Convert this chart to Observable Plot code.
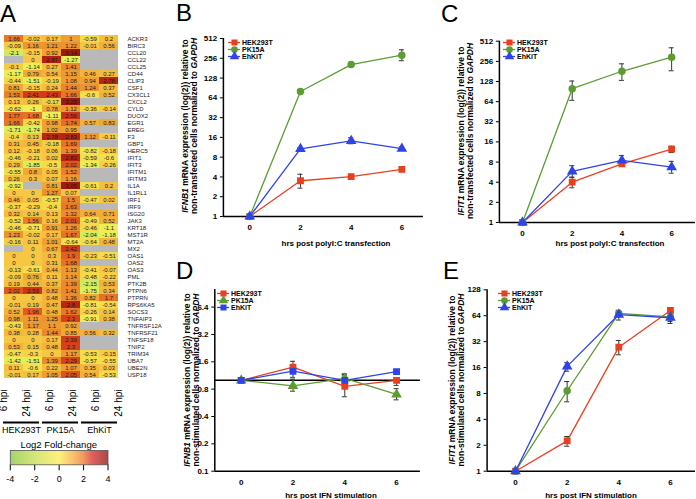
<!DOCTYPE html>
<html><head><meta charset="utf-8">
<script src="https://cdn.jsdelivr.net/npm/d3@7"></script>
<script src="https://cdn.jsdelivr.net/npm/@observablehq/plot@0.6"></script>
<style>
body{margin:0;background:#fff;}
#fig{position:relative;width:696px;height:499px;overflow:hidden;background:#fff;font-family:"Liberation Sans",Arial,sans-serif;color:#000;}
.abs{position:absolute;}
.abs svg{display:block;}
.letter{position:absolute;font-size:24px;line-height:1;color:#000;}
.ylab{position:absolute;font-size:8.5px;font-weight:bold;line-height:8.5px;text-align:center;white-space:nowrap;transform:translate(-50%,-50%) rotate(-90deg);}
.xlab{position:absolute;font-size:8px;font-weight:bold;white-space:nowrap;transform:translate(-50%,-50%);}
.ctitle{position:absolute;font-size:9.5px;white-space:nowrap;transform:translate(-50%,-50%);}
</style></head><body><div id="fig"></div>
<script>
const FONT = '"Liberation Sans", Arial, sans-serif';

// ---------- Panel A data ----------
const genes = ["ACKR3","BIRC3","CCL20","CCL22","CCL25","CD44","CLIP3","CSF1","CX3CL1","CXCL2","CYLD","DUOX2","EGR1","EREG","F3","GBP1","HERC5","IFIT1","IFIT3","IFITM1","IFITM3","IL1A","IL1RL1","IRF1","IRF9","ISG20","JAK3","KRT18","MST1R","MT2A","MX2","OAS1","OAS2","OAS3","PML","PTK2B","PTPN6","PTPRN","RPS6KA5","SOCS3","TNFAIP3","TNFRSF12A","TNFRSF21","TNFSF18","TNIP2","TRIM34","UBA7","UBE2N","USP18"];
const hek6  = [1.66,-0.09,-2.1,null,-0.1,-1.17,-0.44,0.81,1.53,0.13,-0.62,1.77,1.66,-1.71,-0.4,0.31,0.12,-0.46,0.29,-0.55,0.26,-0.92,0,0.46,-0.37,0.32,-0.52,-0.46,1.23,-0.16,null,0,0,-0.13,-0.09,0.19,2.02,0,-0.01,0.52,0.98,-0.43,0.38,0,0.53,-0.47,-1.42,0.11,-0.01];
const hek24 = [-0.02,1.16,-0.15,0,-1.14,0.79,-1.51,-0.15,2.41,0.26,-1,1.68,-0.42,-1.74,0.13,0.45,-0.18,-0.21,-1.85,0.8,0.3,null,0,0.05,-0.29,0.14,1.56,-0.71,-0.02,0.11,0,0,0,-0.61,0.76,0.44,2.53,0,0.19,1.96,1.11,1.17,0.28,0,0.15,-0.3,-1.51,-0.6,0.17];
const pk6   = [0.17,1.21,0.92,2.87,0.27,0.54,-0.19,0.24,2.43,-0.17,0.78,-1.11,0.98,1.02,2.78,-0.18,0.06,0.02,-0.5,0.05,0.07,0.81,1.27,-0.57,-0.4,0.13,0.16,0.91,0.17,1.01,0.67,0.3,0.31,0.44,0.11,0.37,0.82,0.48,0.47,0.48,1.25,1.1,1.44,0.17,0.48,0,1.39,0.22,1.05];
const pk24  = [1,1.22,3.14,-1.27,1.41,1.15,1.08,1.44,1.66,3.25,1.12,2.56,1.74,0.95,2.83,1.69,1.39,2.83,2.02,1.52,1.16,3.05,0.07,1.5,1.63,1.32,2.01,1.26,1.67,-0.64,2.42,1.9,1.68,1.13,1.14,1.39,1.41,1.36,2.8,1.62,2.3,0.92,0.85,2.39,2.3,1.17,2.29,1.07,2.05];
const ehk6  = [-0.59,-0.01,null,null,null,0.46,0.94,1.24,-0.6,null,-0.36,null,0.57,null,1.12,null,-0.82,-0.59,-1.34,null,null,-0.61,null,-0.47,null,0.64,-0.49,-0.46,-2.04,-0.64,null,-0.23,null,-0.41,-0.48,-2.15,-1.75,0.82,-0.81,-0.26,-0.91,null,0.56,null,null,-0.53,-0.57,0.35,0.54];
const ehk24 = [0.2,0.56,null,null,null,0.27,2.78,0.37,0.52,null,-0.14,null,0.83,null,-0.11,null,-0.18,-0.6,-0.26,null,null,0.2,null,0.02,null,0.71,0.52,-1.1,-1.18,0.48,null,-0.51,null,-0.07,-0.22,0.53,0.34,1.7,-0.54,0.14,0.38,null,0.32,null,null,-0.15,-0.55,0.03,-0.53];
const heatCols = ["HEK293T|6","HEK293T|24","PK15A|6","PK15A|24","EhKiT|6","EhKiT|24"];
const cellGroups = ["HEK293T","PK15A","EhKiT"];
const legendTicks = [-4,-2,0,2,4];

// ---------- Panels B–E data ----------
const hours = [0,2,4,6];
const cellLines = ["HEK293T","PK15A","EhKiT"];
// B: IFNB1 after polyI:C
const bMean = [[1,3.5,4.05,5.2],[1,80,205,285],[1,10.7,14.2,10.8]];
const bLo   = [[1,2.7,3.85,4.9],[1,76,190,235],[1,10.3,12.8,10.3]];
const bHi   = [[1,4.4,4.3,5.5],[1,85,220,345],[1,11.2,15.8,11.4]];
// C: IFIT1 after polyI:C
const cMean = [[1,4.0,7.5,12.5],[1,100,182,296],[1,5.8,8.45,6.7]];
const cLo   = [[1,3.3,7.0,11.1],[1,67,133,185],[1,4.75,7.05,5.45]];
const cHi   = [[1,4.75,8.0,13.8],[1,130,235,408],[1,7.05,10,8.2]];
// D: IFNB1 after IFN
const dMean = [[1,1.40,0.86,1.0],[1,0.87,1.05,0.70],[1,1.26,1.0,1.25]];
const dLo   = [[1,1.23,0.66,0.88],[1,0.76,0.95,0.61],[1,1.08,0.93,1.2]];
const dHi   = [[1,1.62,1.18,1.05],[1,1.03,1.12,0.81],[1,1.45,1.16,1.3]];
// E: IFIT1 after IFN
const eMean = [[1,2.25,27.6,73.6],[1,8.6,68,62],[1,16.5,66,60.6]];
const eLo   = [[1,1.95,22.5,69],[1,6.4,62,55],[1,14.5,57,52]];
const eHi   = [[1,2.53,33,78],[1,11,74,70],[1,18.2,73,70]];
const ticks512 = [1,2,4,8,16,32,64,128,256,512];
const ticks128 = [1,2,4,8,16,32,64,128];
const ticksD = [0.1,0.2,0.4,0.8,1.6,3.2,6.4];

const lineColors = ["#e8401f","#5c9c32","#2e44e8"];

const fig = document.getElementById("fig");
function place(node, left, top){
  const d = document.createElement("div");
  d.className = "abs"; d.style.left = left+"px"; d.style.top = top+"px";
  d.appendChild(node); fig.appendChild(d); return d;
}
function html(cls, left, top, inner){
  const d = document.createElement("div");
  d.className = cls; d.style.left = left+"px"; d.style.top = top+"px";
  d.innerHTML = inner; fig.appendChild(d); return d;
}

// ---------- Panel A heatmap ----------
const colVals = [hek6,hek24,pk6,pk24,ehk6,ehk24];
const cells = [];
genes.forEach((g,i)=>heatCols.forEach((c,j)=>cells.push({gene:g,col:c,v:colVals[j][i]})));
const valued = cells.filter(d=>d.v!=null);
const heat = Plot.plot({
  width:165, height:390, marginLeft:2.7, marginRight:46.3, marginTop:28.3, marginBottom:4.5,
  style:{fontFamily:FONT, fontSize:"6px", color:"#222", background:"transparent", overflow:"visible"},
  x:{domain:heatCols, padding:0, axis:null},
  y:{domain:genes, padding:0, axis:"right", tickSize:0, tickPadding:8.3, label:null},
  color:{type:"linear", domain:[-4,-2,-1,-0.5,0,1,1.5,2,2.5,3,4],
    range:["#8ccc50","#d4ee5e","#f0ee55","#f6db4a","#f6c743","#f0a032","#ea842b","#e0581f","#d23418","#a61c10","#6e1008"]},
  marks:[
    Plot.cell(cells,{x:"col",y:"gene",fill:"#b9b9b9",inset:0}),
    Plot.cell(valued,{x:"col",y:"gene",fill:"v",inset:0}),
    Plot.text(valued,{x:"col",y:"gene",text:d=>String(d.v),fontSize:6,fill:"#1a1a1a"})
  ]
});
place(heat,0,0);

// rotated column labels
const colLab = Plot.plot({
  width:120, height:36, margin:0,
  x:{domain:heatCols, range:[2.7,118.7], padding:0, axis:null},
  y:{domain:[0,1], range:[4,30], axis:null},
  style:{fontFamily:FONT, background:"transparent", overflow:"visible"},
  marks:[
    Plot.text(heatCols,{x:d=>d, y:()=>0, text:d=>d.split("|")[1]+" hpi", rotate:-90, textAnchor:"end", lineAnchor:"middle", fontSize:10, fill:"#000"})
  ]
});
place(colLab,0,385);

const grp = Plot.plot({
  width:120, height:24, margin:0,
  x:{domain:cellGroups, range:[2.7,116.7], paddingInner:0.08, paddingOuter:0, axis:null},
  y:{domain:[0,1], range:[7,15], axis:null},
  style:{fontFamily:FONT, background:"transparent", overflow:"visible"},
  marks:[
    Plot.tickY(cellGroups,{x:d=>d,y:()=>0,stroke:"#000",strokeWidth:1.8}),
    Plot.text(cellGroups,{x:d=>d,y:()=>1,text:d=>d,fontSize:9,fill:"#000"})
  ]
});
place(grp,0,415);

html("ctitle",58.7,444,"Log2 Fold-change");
const cbar = Plot.plot({
  width:120, height:55, marginLeft:9.8, marginRight:12.5, marginTop:12, marginBottom:28.7,
  style:{fontFamily:FONT, fontSize:"9px", background:"transparent", overflow:"visible"},
  x:{domain:[-4,4], ticks:legendTicks, tickSize:6, tickPadding:5, tickFormat:d=>String(d), label:null},
  y:{domain:[0,1], axis:null},
  color:{type:"linear", domain:[-4,-2,0,1,2,2.7,4], range:["#a3d36a","#d5e67a","#fdf07d","#f8c86e","#f09a5e","#e25f5c","#a84a4a"]},
  marks:[
    Plot.raster({fill:(x,y)=>x, x1:-4, x2:4, y1:0, y2:1, width:200, height:1, imageRendering:"auto"}),
    Plot.frame({stroke:"#555", strokeWidth:0.8})
  ]
});
place(cbar,0,438);

// ---------- Line charts ----------
function chart(o){
  const rows=[];
  cellLines.forEach((s,k)=>hours.forEach((h,i)=>rows.push({series:s,hour:h,mean:o.mean[k][i],lo:o.lo[k][i],hi:o.hi[k][i]})));
  const err = rows.filter(d=>d.hi>d.lo);
  const p = Plot.plot({
    width:o.w, height:o.h, marginLeft:o.ml, marginRight:o.mr, marginTop:o.mt, marginBottom:o.mb,
    style:{fontFamily:FONT, fontSize:"8px", fontWeight:"bold", background:"transparent", overflow:"visible", color:"#000"},
    x:{domain:o.xd, ticks:hours, tickSize:0, tickPadding:8, tickFormat:d=>String(d), label:null},
    y:{type:"log", base:2, domain:o.yd, ticks:o.yticks, tickFormat:d=>String(d), tickSize:3, tickPadding:3.3, label:null},
    color:{domain:cellLines, range:lineColors},
    symbol:{domain:cellLines, range:o.symbols},
    marks:[
      ...(o.baseline ? [Plot.ruleY([1],{stroke:"#000",strokeWidth:1.5})] : []),
      Plot.ruleX([o.xd[0]],{stroke:"#000",strokeWidth:1.5}),
      Plot.ruleY([o.yd[0]],{stroke:"#000",strokeWidth:1.5}),
      Plot.line(rows,{x:"hour",y:"mean",z:"series",stroke:"series",strokeWidth:1.3}),
      Plot.ruleX(err,{x:"hour",y1:"lo",y2:"hi",stroke:"#333",strokeWidth:1}),
      Plot.ruleY(err,{y:"lo",x1:"hour",x2:"hour",insetLeft:-2.5,insetRight:-2.5,stroke:"#333",strokeWidth:1}),
      Plot.ruleY(err,{y:"hi",x1:"hour",x2:"hour",insetLeft:-2.5,insetRight:-2.5,stroke:"#333",strokeWidth:1}),
      Plot.dot(rows,{x:"hour",y:"mean",symbol:"series",fill:"series",stroke:"series",r:3})
    ]
  });
  place(p,o.left,o.top);
  const lg = Plot.plot({
    width:62, height:26, margin:0,
    x:{domain:[0,1], range:[1,13], axis:null},
    y:{type:"point", domain:cellLines, range:[5,5+2*o.gap], padding:0, axis:null},
    color:{domain:cellLines, range:lineColors},
    symbol:{domain:cellLines, range:o.symbols},
    style:{fontFamily:FONT, fontSize:"7px", fontWeight:"bold", background:"transparent", overflow:"visible", color:"#000"},
    marks:[
      Plot.ruleY(cellLines,{y:d=>d,x1:()=>0,x2:()=>1,stroke:d=>d,strokeWidth:1.3}),
      Plot.dot(cellLines,{x:()=>0.5,y:d=>d,symbol:d=>d,fill:d=>d,stroke:d=>d,r:2.6}),
      Plot.text(cellLines,{x:()=>1,y:d=>d,text:d=>d,textAnchor:"start",dx:1.5,fill:"#000"})
    ]
  });
  place(lg,o.lgLeft,o.lgTop);
  html("xlab",o.xlab[0],o.xlab[1],o.xtitle);
  html("ylab",o.ylab[0],o.ylab[1],o.ytitle);
}

chart({left:190,top:28,w:236,h:210,ml:32.9,mr:3.1,mt:10,mb:22,
  xd:[-1.04,6.85], yd:[1,512], yticks:ticks512, mean:bMean, lo:bLo, hi:bHi,
  symbols:["square","circle","triangle"], lgLeft:227, lgTop:36, gap:7.5,
  xlab:[336,242.7], xtitle:"hrs post polyI:C transfection",
  ylab:[189,126], ytitle:"<i>IFNB1</i> mRNA expression (log(2)) relative to<br>non-transfected cells normalized to <i>GAPDH</i>"});
chart({left:466,top:30,w:230,h:214,ml:32.9,mr:1,mt:10.7,mb:22,
  xd:[-0.93,6.96], yd:[1,512], yticks:ticks512, mean:cMean, lo:cLo, hi:cHi,
  symbols:["square","circle","triangle"], lgLeft:502, lgTop:37, gap:7.3,
  xlab:[610,242.7], xtitle:"hrs post polyI:C transfection",
  ylab:[464.5,131], ytitle:"<i>IFIT1</i> mRNA expression (log(2)) relative to<br>non-transfected cells normalized to <i>GAPDH</i>"});
chart({left:182,top:279,w:242,h:214,ml:32.3,mr:4.1,mt:10,mb:22.3,
  xd:[-1.02,6.92], yd:[0.1,10], yticks:ticksD, mean:dMean, lo:dLo, hi:dHi, baseline:true,
  symbols:["square","triangle","square"], lgLeft:216, lgTop:287.3, gap:7.7,
  xlab:[331,495], xtitle:"hrs post IFN stimulation",
  ylab:[191,380], ytitle:"<i>IFNB1</i> mRNA expression (log(2)) relative to<br>non-stimulated cells normalized to <i>GAPDH</i>"});
chart({left:454,top:279,w:242,h:214,ml:32.6,mr:1,mt:10.3,mb:22.3,
  xd:[-1.1,6.97], yd:[1,128], yticks:ticks128, mean:eMean, lo:eLo, hi:eHi,
  symbols:["square","circle","triangle"], lgLeft:497, lgTop:286.7, gap:7.65,
  xlab:[591,495], xtitle:"hrs post IFN stimulation",
  ylab:[456,380], ytitle:"<i>IFIT1</i> mRNA expression (log(2)) relative to<br>non-stimulated cells normalized to <i>GAPDH</i>"});

// panel letters
html("letter",0,2,"A");
html("letter",176,1,"B");
html("letter",441,2,"C");
html("letter",176,259,"D");
html("letter",443,259,"E");
</script></body></html>
